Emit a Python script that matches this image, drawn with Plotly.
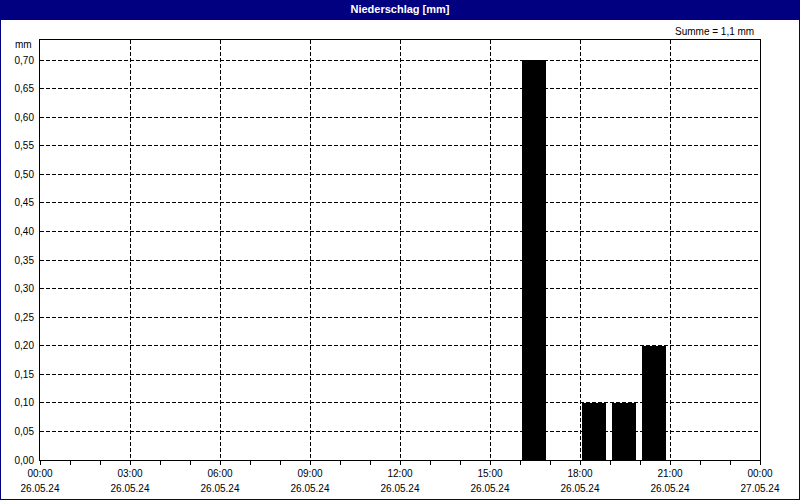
import plotly.graph_objects as go

# Data: hourly precipitation on 26.05.24 (mm), hour start times
hours = [f"2024-05-26 {h:02d}:00" for h in range(24)]
precip = [0.0, 0.0, 0.0, 0.0, 0.0, 0.0, 0.0, 0.0, 0.0, 0.0, 0.0, 0.0,
          0.0, 0.0, 0.0, 0.0, 0.7, 0.0, 0.1, 0.1, 0.2, 0.0, 0.0, 0.0]

tick_times = ["2024-05-26 00:00", "2024-05-26 03:00", "2024-05-26 06:00", "2024-05-26 09:00",
              "2024-05-26 12:00", "2024-05-26 15:00", "2024-05-26 18:00", "2024-05-26 21:00",
              "2024-05-27 00:00"]
tick_hours = ["00:00", "03:00", "06:00", "09:00", "12:00", "15:00", "18:00", "21:00", "00:00"]
tick_dates = ["26.05.24", "26.05.24", "26.05.24", "26.05.24", "26.05.24", "26.05.24",
              "26.05.24", "26.05.24", "27.05.24"]
y_ticks = [0.00, 0.05, 0.10, 0.15, 0.20, 0.25, 0.30, 0.35, 0.40, 0.45, 0.50, 0.55, 0.60, 0.65, 0.70]

x_range = ["2024-05-26 00:00", "2024-05-27 00:00"]
FONT = "Liberation Sans"
NAVY = "#000080"
MIN = 60 * 1000

fig = go.Figure()
fig.add_trace(go.Bar(
    x=hours, y=precip,
    width=48 * MIN, offset=4 * MIN,
    marker=dict(color="black", line=dict(width=0)),
    showlegend=False, hoverinfo="x+y",
))
fig.add_trace(go.Scatter(
    x=[x_range[0]], y=[0], xaxis="x2", yaxis="y", mode="markers",
    marker=dict(opacity=0), showlegend=False, hoverinfo="skip",
))

grid = dict(showgrid=True, gridcolor="black", gridwidth=1, griddash="4px,2px")

fig.update_layout(
    width=800, height=500,
    margin=dict(l=40, r=40, t=40, b=40, autoexpand=False),
    paper_bgcolor="white", plot_bgcolor="white",
    separators=",.",
    font=dict(family=FONT, size=10, color="black"),
    bargap=0,
    title=dict(text="<b>Niederschlag [mm]</b>", x=0.5, xanchor="center",
               y=1 - 9.5 / 500, yanchor="middle", yref="container", automargin=False,
               font=dict(family=FONT, size=11, color="white")),
    xaxis=dict(
        type="date", range=x_range, tickmode="array", tickvals=tick_times, ticktext=tick_hours,
        ticks="outside", ticklen=4, tickcolor="black", tickwidth=1, automargin=False,
        minor=dict(dtick=3600000, tick0="2024-05-26 00:00", ticks="outside", ticklen=4,
                   tickcolor="black", showgrid=False),
        showline=True, linecolor="black", linewidth=1, mirror=True,
        tickfont=dict(size=10, color="black"), zeroline=False,
        **grid,
    ),
    xaxis2=dict(
        type="date", range=x_range, overlaying="x", anchor="y", side="bottom",
        tickmode="array", tickvals=tick_times, ticktext=tick_dates, automargin=False,
        ticks="", showgrid=False, showline=False, zeroline=False,
        ticklabelstandoff=21, tickfont=dict(size=10, color="black"),
    ),
    yaxis=dict(
        range=[0, 0.735], tickmode="array", tickvals=y_ticks, tickformat=".2f",
        ticks="", showline=True, linecolor="black", linewidth=1, mirror=True, automargin=False,
        zeroline=False, tickfont=dict(size=10, color="black"), ticklabelstandoff=3,
        **grid,
    ),
    shapes=[
        dict(type="rect", xref="paper", yref="paper",
             x0=-40 / 720, x1=760 / 720, y0=440 / 420, y1=460 / 420,
             fillcolor=NAVY, line=dict(width=0), layer="above"),
        dict(type="rect", xref="paper", yref="paper",
             x0=-40 / 720, x1=760 / 720, y0=-40 / 420, y1=460 / 420,
             fillcolor="rgba(0,0,0,0)", line=dict(color=NAVY, width=2), layer="above"),
    ],
    annotations=[
        dict(text="Summe = 1,1 mm", xref="paper", yref="paper",
             x=716 / 720, y=429 / 420, xanchor="right", yanchor="middle",
             showarrow=False, font=dict(size=10, color="black")),
        dict(text="mm", xref="paper", yref="paper",
             x=-6 / 720, y=415 / 420, xanchor="right", yanchor="middle",
             showarrow=False, font=dict(size=10, color="black")),
    ],
)

fig.write_html("out.html", config={"displayModeBar": False},
               post_script="document.body.style.margin='0';")
